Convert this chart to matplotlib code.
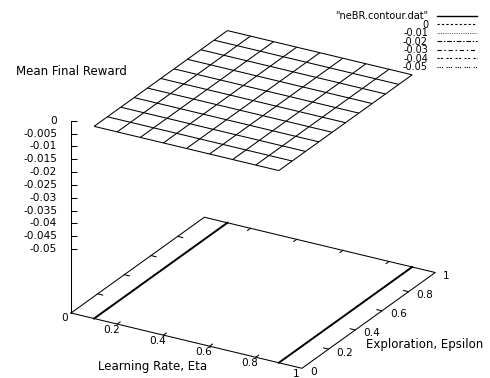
import numpy as np
import matplotlib
matplotlib.use('Agg')
import matplotlib.pyplot as plt
from matplotlib.lines import Line2D
from matplotlib.markers import TICKRIGHT
from matplotlib.transforms import ScaledTranslation

plt.rcParams['font.family'] = ['DejaVu Sans']
plt.rcParams['lines.scale_dashes'] = False

# ---------------- data ----------------
eta = [0.1, 0.2, 0.3, 0.4, 0.5, 0.6, 0.7, 0.8, 0.9]
epsilon = [0.0, 0.1, 0.2, 0.3, 0.4, 0.5, 0.6, 0.7, 0.8, 0.9, 1.0]
reward = [
    [0.0, 0.0, 0.0, 0.0, 0.0, 0.0, 0.0, 0.0, 0.0, 0.0, 0.0],
    [0.0, 0.0, 0.0, 0.0, 0.0, 0.0, 0.0, 0.0, 0.0, 0.0, 0.0],
    [0.0, 0.0, 0.0, 0.0, 0.0, 0.0, 0.0, 0.0, 0.0, 0.0, 0.0],
    [0.0, 0.0, 0.0, 0.0, 0.0, 0.0, 0.0, 0.0, 0.0, 0.0, 0.0],
    [0.0, 0.0, 0.0, 0.0, 0.0, 0.0, 0.0, 0.0, 0.0, 0.0, 0.0],
    [0.0, 0.0, 0.0, 0.0, 0.0, 0.0, 0.0, 0.0, 0.0, 0.0, 0.0],
    [0.0, 0.0, 0.0, 0.0, 0.0, 0.0, 0.0, 0.0, 0.0, 0.0, 0.0],
    [0.0, 0.0, 0.0, 0.0, 0.0, 0.0, 0.0, 0.0, 0.0, 0.0, 0.0],
    [0.0, 0.0, 0.0, 0.0, 0.0, 0.0, 0.0, 0.0, 0.0, 0.0, 0.0],
]
contour_eta = [0.1, 0.9]          # base contour lines (at constant eta)
contour_eps = [0.0, 1.0]

x_ticks = [0.0, 0.2, 0.4, 0.6, 0.8, 1.0]
x_ticklabels = ['0', '0.2', '0.4', '0.6', '0.8', '1']
y_ticks = [0.0, 0.2, 0.4, 0.6, 0.8, 1.0]
y_ticklabels = ['0', '0.2', '0.4', '0.6', '0.8', '1']
z_ticks = [0.0, -0.005, -0.01, -0.015, -0.02, -0.025, -0.03, -0.035, -0.04, -0.045, -0.05]
z_ticklabels = ['0', '-0.005', '-0.01', '-0.015', '-0.02', '-0.025', '-0.03',
                '-0.035', '-0.04', '-0.045', '-0.05']
legend_labels = ['"neBR.contour.dat"', '0', '-0.01', '-0.02', '-0.03', '-0.04', '-0.05']

x_label = 'Learning Rate, Eta'
y_label = 'Exploration, Epsilon'
z_label = 'Mean Final Reward'

# axis ranges (gnuplot: ticslevel 0.5 -> base below zmin)
XMIN, XMAX = 0.0, 1.0
YMIN, YMAX = 0.0, 1.0
ZMIN, ZMAX = -0.05, 0.0
ZBASE = ZMIN - 0.5 * (ZMAX - ZMIN)

# ---------------- figure ----------------
W, H, DPI = 490, 378, 100
fig = plt.figure(figsize=(W / DPI, H / DPI), dpi=DPI)
side = 420
ax = fig.add_axes([0, 0, side / W, side / H], projection='3d', proj_type='ortho')
ax.view_init(elev=24.5, azim=-60)
ax.set_xlim(XMIN, XMAX)
ax.set_ylim(YMIN, YMAX)
ax.set_zlim(ZBASE, ZMAX)
BOX = (1.0, 1.0, 0.792)
ax.set_box_aspect(BOX)
ax.set_axis_off()
ax.patch.set_visible(False)

LW = 0.75
K = 'black'

# surface mesh
X, Y = np.meshgrid(eta, epsilon, indexing='ij')
Z = np.array(reward)
ax.plot_wireframe(X, Y, Z, color=K, linewidth=LW, clip_on=False)

# base border
ax.plot([XMIN, XMAX, XMAX, XMIN, XMIN], [YMIN, YMIN, YMAX, YMAX, YMIN],
        [ZBASE] * 5, color=K, lw=LW, clip_on=False)
# z axis
ax.plot([XMIN, XMIN], [YMIN, YMIN], [ZBASE, ZMAX], color=K, lw=LW, clip_on=False)

# base contours
for c in contour_eta:
    ax.plot([c, c], contour_eps, [ZBASE, ZBASE], color=K, lw=1.4, clip_on=False)

# ticks on base
TL = 0.022
for t in x_ticks[1:-1]:
    ax.plot([t, t], [YMIN, YMIN + TL], [ZBASE, ZBASE], color=K, lw=LW, clip_on=False)
    ax.plot([t, t], [YMAX, YMAX - TL], [ZBASE, ZBASE], color=K, lw=LW, clip_on=False)
for t in y_ticks[1:-1]:
    ax.plot([XMAX, XMAX - TL], [t, t], [ZBASE, ZBASE], color=K, lw=LW, clip_on=False)
    ax.plot([XMIN, XMIN + TL], [t, t], [ZBASE, ZBASE], color=K, lw=LW, clip_on=False)
# z ticks
ax.plot([XMIN] * len(z_ticks), [YMIN] * len(z_ticks), z_ticks, ls='none',
        marker=TICKRIGHT, ms=4.3, mew=LW, color=K, clip_on=False)

# legend
styles = [
    dict(ls='-', lw=1.0),
    dict(dashes=(1.6, 1.6), lw=0.8),
    dict(dashes=(0.6, 0.7), lw=0.8, color='0.35'),
    dict(dashes=(3.5, 1.2, 1.0, 1.2), lw=0.8),
    dict(dashes=(3.0, 2.0, 1.0, 2.0), lw=0.8),
    dict(dashes=(1.5, 1.0, 1.5, 2.5), lw=0.8),
    dict(dashes=(0.8, 0.8, 0.8, 0.8, 0.8, 2.5), lw=0.8),
]
handles = []
for st in styles:
    kw = dict(color=K)
    kw.update(st)
    handles.append(Line2D([], [], **kw))
LEGFS = 7.0
fpx = LEGFS * DPI / 72
fig.legend(handles, legend_labels, loc='upper right',
           bbox_to_anchor=(477 / W, 1 - 11 / H), frameon=False, markerfirst=False,
           handlelength=40 / fpx, handletextpad=9 / fpx, labelspacing=-0.15,
           borderpad=0, borderaxespad=0, fontsize=LEGFS)


# -------- calibrate placement of the 3D box --------
def proj2d(x, y, z):
    M = ax.get_proj()
    v = M @ np.array([x, y, z, 1.0])
    return v[0] / v[3], v[1] / v[3]


def to_px(x, y, z):
    return ax.transData.transform(proj2d(x, y, z))


fig.canvas.draw()
p0 = to_px(XMIN, YMIN, ZBASE)
p1 = to_px(XMAX, YMIN, ZBASE)
L = np.hypot(*(p1 - p0))
ax.set_box_aspect(BOX, zoom=np.hypot(231, 55) / L)
fig.canvas.draw()
p0 = to_px(XMIN, YMIN, ZBASE)
dx, dy = np.array([71.0, H - 313.0]) - p0
pos = ax.get_position(original=True)
ax.set_position([pos.x0 + dx / W, pos.y0 + dy / H, pos.width, pos.height])
fig.canvas.draw()


# -------- texts, anchored at projected 3D points --------
def label3d(x, y, z, s, dx, dy, **kw):
    px, py = proj2d(x, y, z)
    off = ScaledTranslation(dx / DPI, -dy / DPI, fig.dpi_scale_trans)
    return ax.text2D(px, py, s, transform=ax.transData + off, **kw)


TICKFS = 7.6
LABFS = 8.5
for t, s in zip(x_ticks, x_ticklabels):
    label3d(t, YMIN, ZBASE, s, -6, 5.5, ha='center', va='center', fontsize=TICKFS)
for t, s in zip(y_ticks, y_ticklabels):
    label3d(XMAX, t, ZBASE, s, 8, 3.5, ha='left', va='center', fontsize=TICKFS)
for t, s in zip(z_ticks, z_ticklabels):
    label3d(XMIN, YMIN, t, s, -14, 0, ha='right', va='center', fontsize=TICKFS)

label3d(0.5 * (XMIN + XMAX), YMIN, ZBASE, x_label, -33.5, 25.5,
        ha='center', va='center', fontsize=LABFS)
label3d(XMAX, 0.5 * (YMIN + YMAX), ZBASE, y_label, 56.5, 24.5,
        ha='center', va='center', fontsize=LABFS)
label3d(XMIN, YMIN, ZMAX, z_label, 0, -49, ha='center', va='center', fontsize=LABFS)

fig.savefig('out.png', dpi=DPI)
